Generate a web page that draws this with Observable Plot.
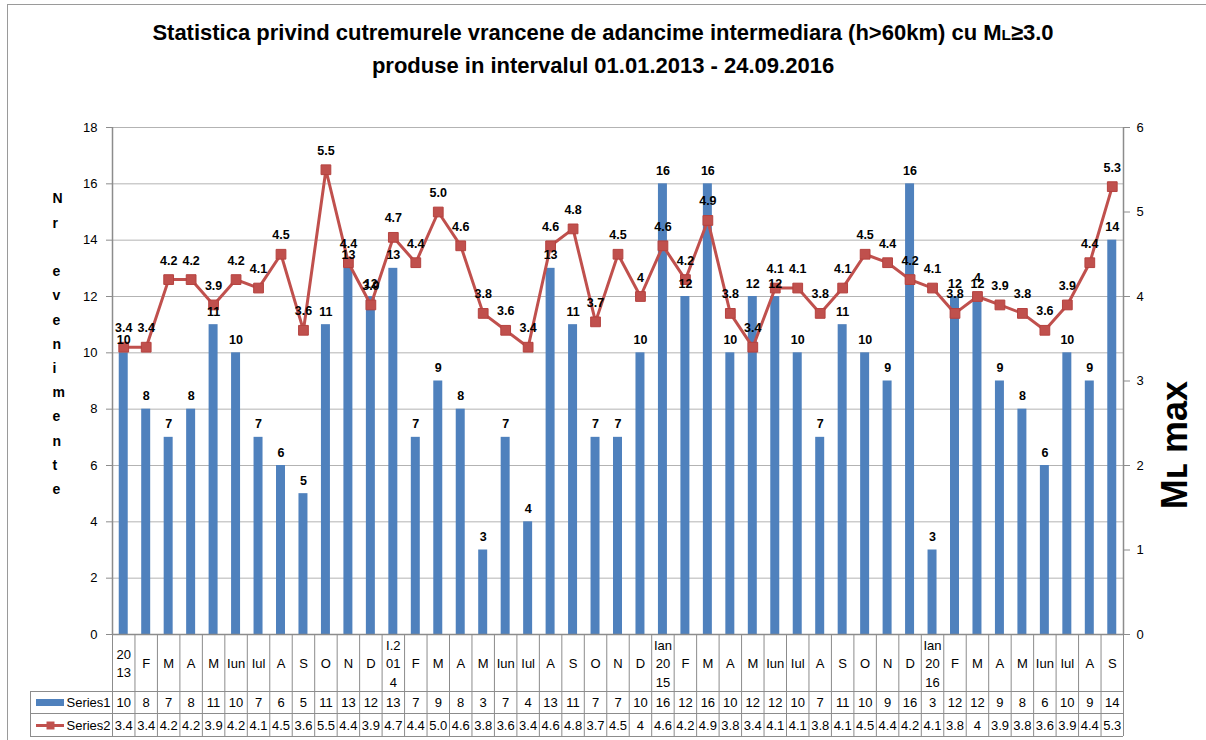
<!DOCTYPE html>
<html><head><meta charset="utf-8">
<script src="https://cdn.jsdelivr.net/npm/d3@7"></script>
<script src="https://cdn.jsdelivr.net/npm/@observablehq/plot@0.6"></script>
<style>
body{margin:0;background:#fff;}
#wrap{position:relative;width:1206px;height:740px;overflow:hidden;background:#fff;}
#frame{position:absolute;left:7px;top:4px;right:-2px;bottom:-2px;border-top:1px solid #9a9a9a;border-left:1px solid #9a9a9a;}
#wrap svg{position:absolute;left:0;top:0;}
#title{position:absolute;left:0;top:17px;width:1206px;text-align:center;font-family:"Liberation Sans Narrow","Arial Narrow","Liberation Sans",sans-serif;font-weight:bold;font-size:22px;line-height:31px;color:#000;}
</style></head>
<body><div id="wrap"><div id="frame"></div></div>
<script>
const months = ["20\n13","F","M","A","M","Iun","Iul","A","S","O","N","D",
  "I.2\n01\n4","F","M","A","M","Iun","Iul","A","S","O","N","D",
  "Ian\n20\n15","F","M","A","M","Iun","Iul","A","S","O","N","D",
  "Ian\n20\n16","F","M","A","M","Iun","Iul","A","S"];
const series1 = [10,8,7,8,11,10,7,6,5,11,13,12,
  13,7,9,8,3,7,4,13,11,7,7,10,
  16,12,16,10,12,12,10,7,11,10,9,16,
  3,12,12,9,8,6,10,9,14];
const series2 = ["3.4","3.4","4.2","4.2","3.9","4.2","4.1","4.5","3.6","5.5","4.4","3.9",
  "4.7","4.4","5.0","4.6","3.8","3.6","3.4","4.6","4.8","3.7","4.5","4",
  "4.6","4.2","4.9","3.8","3.4","4.1","4.1","3.8","4.1","4.5","4.4","4.2",
  "4.1","3.8","4","3.9","3.8","3.6","3.9","4.4","5.3"];
const leftTicks = [0,2,4,6,8,10,12,14,16,18];
const rightTicks = [0,1,2,3,4,5,6];
const seriesNames = ["Series1","Series2"];
const yLabel = "Nr evenimente";
const y2Label = "M\u029F max";

const K = 18 / 6; // left domain / right domain
const data = months.map((m, i) => ({i, m, n: series1[i], mlText: series2[i], ml: +series2[i]}));
const cx = d => d.i + 0.5;
const BLUE = "#4F81BD", RED = "#C0504D", AX = "#8c8c8c", GRID = "#b3b3b3";
const F = "'Liberation Sans', Arial, sans-serif";

const chart = Plot.plot({
  width: 1206, height: 740,
  marginLeft: 112, marginRight: 83, marginTop: 127, marginBottom: 106,
  style: {fontFamily: F, fontSize: "13px", background: "transparent", color: "#000", overflow: "visible"},
  x: {domain: [0, months.length], axis: null},
  y: {domain: [0, 18], axis: null},
  marks: [
    Plot.ruleY(leftTicks.slice(1), {stroke: GRID, strokeWidth: 1}),
    Plot.rectY(data, {x1: d => d.i + 0.3, x2: d => d.i + 0.7, y: "n", fill: BLUE}),
    Plot.line(data, {x: cx, y: d => d.ml * K, stroke: RED, strokeWidth: 3}),
    Plot.dot(data, {x: cx, y: d => d.ml * K, symbol: "square", r: 5.5, fill: RED, stroke: "#b5423f", strokeWidth: 1}),
    Plot.text(data, {x: cx, y: "n", text: d => String(d.n), dy: -13, fontWeight: "bold", fontSize: 12.5}),
    Plot.text(data, {x: cx, y: d => d.ml * K, text: "mlText", dy: -19, fontWeight: "bold", fontSize: 12.5}),
    // axes
    Plot.axisY({ticks: leftTicks, anchor: "left", tickSize: 6, tickPadding: 9, label: null, stroke: AX, fontSize: 13}),
    Plot.axisY({ticks: rightTicks.map(t => t * K), tickFormat: d => String(d / K), anchor: "right", tickSize: 6, tickPadding: 7, label: null, stroke: AX, fontSize: 13}),
    Plot.ruleX([0, months.length], {stroke: AX, strokeWidth: 1.5}),
    Plot.ruleY([0], {stroke: AX, strokeWidth: 1.5}),
    // axis titles
    Plot.text([yLabel.split("").map(c => c === " " ? "" : c).join("\n")], {frameAnchor: "left", dx: -60, dy: -40, lineHeight: 1.73, fontWeight: "bold", fontSize: 14}),
    Plot.text([y2Label], {frameAnchor: "right", dx: 52, rotate: -90, fontWeight: "bold", fontSize: 36}),
    // data table grid
    Plot.ruleX(d3.range(0, months.length + 1), {y1: 0, y2: 0, insetBottom: -102, stroke: AX, strokeWidth: 1}),
    Plot.ruleX([0], {y1: 0, y2: 0, dx: -82, insetTop: 57, insetBottom: -102, stroke: AX, strokeWidth: 1}),
    Plot.ruleY([0], {x1: 0, x2: months.length, insetLeft: -82, dy: 57, stroke: AX, strokeWidth: 1}),
    Plot.ruleY([0], {x1: 0, x2: months.length, insetLeft: -82, dy: 79, stroke: AX, strokeWidth: 1}),
    Plot.ruleY([0], {x1: 0, x2: months.length, insetLeft: -82, dy: 102, stroke: AX, strokeWidth: 1}),
    // data table text
    Plot.text(data, {x: cx, y: 0, text: "m", dy: 28, lineHeight: 1.4, fontSize: 13}),
    Plot.text(data, {x: cx, y: 0, text: d => String(d.n), dy: 68, fontSize: 13}),
    Plot.text(data, {x: cx, y: 0, text: "mlText", dy: 91, fontSize: 13}),
    // legend keys
    Plot.ruleY([0], {x1: 0, x2: 0, insetLeft: -76, insetRight: 48, dy: 68, stroke: BLUE, strokeWidth: 7}),
    Plot.ruleY([0], {x1: 0, x2: 0, insetLeft: -76, insetRight: 48, dy: 91, stroke: RED, strokeWidth: 3}),
    Plot.dot([0], {x: 0, y: 0, dx: -62, dy: 91, symbol: "square", r: 4.5, fill: RED}),
    Plot.text([seriesNames[0]], {x: 0, y: 0, dx: -46, dy: 68, textAnchor: "start", fontSize: 13}),
    Plot.text([seriesNames[1]], {x: 0, y: 0, dx: -46, dy: 91, textAnchor: "start", fontSize: 13})
  ]
});
const wrap = document.getElementById("wrap");
wrap.appendChild(chart);
const t = document.createElement("div");
t.id = "title";
t.innerHTML = 'Statistica privind cutremurele vrancene de adancime intermediara (h&gt;60km) cu M<span style="font-size:70%">L</span>\u22653.0<br>produse in intervalul 01.01.2013 - 24.09.2016';
wrap.appendChild(t);
</script>
</body></html>
